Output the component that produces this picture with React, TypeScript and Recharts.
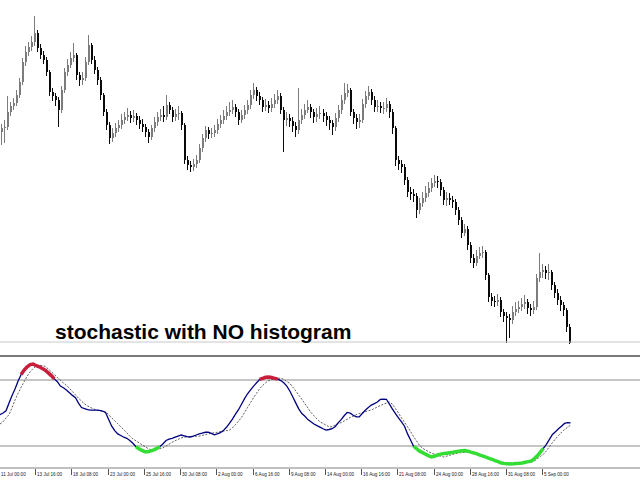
import { ComposedChart, Bar, Line, XAxis, YAxis, ReferenceLine } from "recharts";

// H4 candles: [open, high, low, close]
const candles: [number, number, number, number][] = [
  [210, 218, 197, 214], [214, 222, 199, 215], [215, 246, 212, 230], [230, 240, 226, 236],
  [236, 244, 232, 239], [239, 252, 236, 247], [247, 264, 244, 260], [260, 284, 257, 280],
  [280, 296, 276, 290], [290, 300, 286, 295], [295, 306, 291, 300], [300, 326, 296, 309],
  [309, 312, 290, 294], [294, 298, 283, 287], [287, 291, 278, 282], [282, 285, 266, 270],
  [270, 272, 246, 250], [250, 254, 241, 246], [246, 249, 236, 242], [242, 245, 215, 232],
  [232, 256, 229, 252], [252, 274, 249, 270], [270, 283, 266, 277], [277, 290, 274, 284],
  [284, 299, 280, 287], [287, 289, 262, 267], [267, 270, 256, 262], [262, 270, 257, 264],
  [264, 285, 261, 280], [280, 307, 277, 297], [297, 299, 278, 282], [282, 286, 268, 272],
  [272, 275, 257, 262], [262, 265, 242, 247], [247, 249, 226, 230], [230, 233, 212, 217],
  [217, 220, 198, 204], [204, 214, 200, 209], [209, 219, 205, 214], [214, 222, 210, 217],
  [217, 228, 213, 222], [222, 230, 218, 225], [225, 234, 221, 227], [227, 231, 219, 224],
  [224, 232, 220, 226], [226, 229, 217, 222], [222, 226, 213, 218], [218, 223, 210, 215],
  [215, 218, 205, 210], [210, 213, 199, 205], [205, 217, 202, 214], [214, 225, 210, 220],
  [220, 230, 216, 225], [225, 233, 221, 227], [227, 236, 220, 225], [225, 247, 222, 237],
  [237, 240, 228, 232], [232, 235, 220, 225], [225, 233, 221, 228], [228, 236, 222, 229],
  [229, 231, 212, 217], [217, 219, 178, 182], [182, 186, 172, 177], [177, 181, 170, 175],
  [175, 183, 171, 178], [178, 187, 174, 182], [182, 198, 179, 194], [194, 208, 190, 204],
  [204, 216, 200, 212], [212, 215, 203, 208], [208, 214, 204, 209], [209, 217, 205, 212],
  [212, 223, 208, 218], [218, 227, 214, 222], [222, 232, 218, 226], [226, 236, 222, 230],
  [230, 240, 226, 232], [232, 242, 228, 235], [235, 238, 225, 230], [230, 233, 217, 222],
  [222, 232, 219, 227], [227, 237, 223, 232], [232, 242, 228, 237], [237, 252, 233, 247],
  [247, 259, 243, 252], [252, 255, 241, 246], [246, 250, 237, 242], [242, 245, 230, 235],
  [235, 243, 231, 237], [237, 241, 229, 234], [234, 244, 230, 238], [238, 248, 234, 242],
  [242, 252, 238, 246], [246, 249, 228, 232], [232, 235, 190, 222], [222, 230, 216, 224],
  [224, 228, 215, 221], [221, 225, 210, 216], [216, 220, 205, 212], [212, 254, 208, 222],
  [222, 233, 218, 227], [227, 238, 223, 232], [232, 242, 229, 235], [235, 238, 224, 230],
  [230, 233, 219, 225], [225, 234, 220, 228], [228, 236, 223, 229], [229, 233, 220, 226],
  [226, 230, 216, 222], [222, 226, 212, 219], [219, 222, 207, 215], [215, 229, 211, 224],
  [224, 237, 220, 232], [232, 247, 228, 242], [242, 259, 238, 249], [249, 258, 245, 252],
  [252, 254, 226, 230], [230, 233, 218, 224], [224, 228, 213, 220], [220, 228, 214, 222],
  [222, 243, 219, 238], [238, 251, 234, 246], [246, 256, 242, 250], [250, 253, 237, 242],
  [242, 246, 230, 235], [235, 242, 230, 236], [236, 240, 229, 234], [234, 240, 228, 234],
  [234, 244, 230, 238], [238, 241, 224, 230], [230, 233, 208, 214], [214, 216, 176, 182],
  [182, 186, 172, 178], [178, 182, 169, 175], [175, 178, 157, 162], [162, 165, 145, 150],
  [150, 155, 142, 148], [148, 153, 140, 146], [146, 149, 124, 132], [132, 144, 128, 139],
  [139, 150, 135, 144], [144, 156, 140, 149], [149, 160, 145, 154], [154, 164, 150, 159],
  [159, 167, 155, 161], [161, 166, 154, 160], [160, 163, 146, 152], [152, 155, 137, 142],
  [142, 150, 136, 144], [144, 149, 137, 142], [142, 146, 134, 140], [140, 143, 127, 132],
  [132, 135, 117, 122], [122, 125, 104, 109], [109, 118, 106, 113], [113, 116, 92, 97],
  [97, 100, 79, 84], [84, 88, 74, 79], [79, 92, 76, 86], [86, 95, 83, 89],
  [89, 96, 84, 90], [90, 92, 62, 67], [67, 69, 40, 45], [45, 49, 36, 41],
  [41, 46, 35, 40], [40, 48, 36, 42], [42, 45, 25, 30], [30, 33, 20, 26],
  [26, 30, -1, 24], [24, 28, 4, 22], [22, 36, 18, 30], [30, 40, 26, 33],
  [33, 41, 29, 35], [35, 44, 31, 38], [38, 47, 33, 40], [40, 43, 28, 34],
  [34, 38, 26, 32], [32, 41, 28, 35], [35, 68, 32, 64], [64, 89, 60, 70],
  [70, 78, 64, 72], [72, 76, 63, 69], [69, 78, 62, 70], [70, 72, 52, 57],
  [57, 60, 44, 49], [49, 53, 37, 42], [42, 46, 31, 37], [37, 40, 26, 32],
  [32, 34, 10, 15], [15, 18, -4, -1],
];

// stochastic %K
const stochMain = [
  48.5, 50, 52, 59, 66, 72, 79, 85, 89, 92, 94, 94.5, 93, 92, 90.5, 89, 86.5, 84, 81, 78.5,
  74.5, 73, 71, 68.5, 66, 64, 59, 55, 54, 53, 52.7, 52.7, 52.6, 52.3, 51.8, 50.3, 44, 38, 34, 31,
  29.5, 28, 27, 25, 22.5, 19.5, 17.5, 16, 14.8, 14.8, 15.5, 16.5, 18, 19.5, 22, 25, 26.3, 27, 28, 29,
  30, 29.3, 28.5, 28.2, 29, 30, 31, 31.8, 32.5, 32.5, 31.5, 30.2, 31, 32.2, 34, 37, 40.5, 44.5, 49, 53,
  58, 63, 67.5, 71, 74.5, 77.5, 80.5, 81.5, 82.5, 82.7, 82.2, 81.5, 80.8, 79.5, 77.5, 74.5, 70, 64.5, 59, 53.5,
  49.5, 47, 44, 42, 40, 38.5, 37.2, 35.7, 34.5, 35, 35.7, 37.5, 41, 44, 47.5, 50.5, 49.8, 48, 46.5, 46.5,
  49.5, 52.5, 55, 57.2, 58.5, 60, 62.3, 62.7, 62.5, 58, 53.5, 49.5, 45.5, 42, 38, 31, 25.5, 19.8, 17.5, 15.3,
  14, 12.5, 11, 10.1, 10.9, 11.8, 12.6, 13.1, 13.5, 13.9, 14.3, 14.8, 15.2, 15.6, 15.9, 15.2, 14.4, 13.7, 12.8, 11.8,
  10.8, 9.8, 8.8, 7.8, 6.8, 5.7, 4.6, 4.2, 3.9, 3.6, 3.8, 4.1, 4.3, 4.6, 5.2, 5.8, 6.3, 8.5, 11, 14.5,
  17.8, 21.5, 26, 30.5, 33, 35.6, 38, 40.5, 41.2, 41,
];

// stochastic %D (signal)
const stochSignal = [
  40, 42, 45.5, 48.5, 55, 62, 68, 73.5, 78.5, 83.5, 87.5, 90.5, 92.8, 93.5, 93, 92.3, 90, 87.5, 85, 82.2,
  79.8, 77.3, 75, 72.5, 69.5, 66.5, 63.5, 60.8, 58.3, 56.4, 55, 53.7, 52.6, 52, 51.5, 51, 48.5, 45.5, 43, 40.3,
  37.5, 34.8, 32, 29, 26.5, 24.8, 23, 21.2, 19.5, 17.8, 16.5, 16.2, 16.8, 17.5, 18.3, 20, 21.7, 23.3, 24.8, 26,
  27.3, 28, 28.2, 28.4, 28.6, 28.8, 29, 29.6, 30.3, 31, 31.6, 32, 32.5, 33, 33.5, 34, 34.5, 36.5, 39.5, 42.5,
  46, 50.5, 55, 59.5, 64, 68, 72, 75, 77.5, 79.5, 80.3, 81, 81.5, 81.7, 80.5, 78.5, 77, 73.5, 70, 66,
  62.5, 58.5, 54.5, 50.5, 47.5, 44.5, 42, 40.5, 39, 37.5, 37.5, 39, 40.3, 41.2, 42.7, 44.3, 46, 47.2, 48.5, 49.5,
  50.4, 51.2, 52, 52.8, 54, 55.5, 56.8, 58, 59, 60, 58, 54, 50, 45.5, 41.5, 37.5, 33.3, 28.5, 24.5, 20.5,
  18, 16.3, 14.7, 13.5, 12.6, 11.6, 10.7, 10, 10.8, 11.6, 12.4, 13.2, 13.7, 14, 14.2, 14.4, 14.5, 13.5, 12.3, 11.2,
  10.5, 9.5, 8.5, 7.5, 6.5, 5.6, 5.3, 5, 4.7, 4.5, 4.5, 4.5, 4.5, 4.5, 4.7, 5.2, 5.8, 6.4, 8.5, 10.5,
  12.5, 15.5, 19.5, 23, 26.5, 29.5, 32.5, 35, 37, 39,
];

const tickLabels = [
  "11 Jul 00:00", "13 Jul 16:00", "18 Jul 08:00", "23 Jul 00:00", "25 Jul 16:00", "30 Jul 08:00",
  "2 Aug 00:00", "6 Aug 16:00", "9 Aug 08:00", "14 Aug 00:00", "16 Aug 16:00", "21 Aug 08:00",
  "24 Aug 00:00", "28 Aug 16:00", "31 Aug 08:00", "5 Sep 00:00",
];

const TICK_STEP = 12; // bars between time labels
const EMPTY_BARS = 23; // free space right of the last bar
const OVERBOUGHT = 80;
const OVERSOLD = 20;

const rows = Array.from({ length: candles.length + EMPTY_BARS }, (_, i) => {
  const c = candles[i];
  const m = stochMain[i];
  return {
    idx: i,
    range: c ? [c[2], c[1]] : null,
    ohlc: c ?? null,
    main: m ?? null,
    signal: stochSignal[i] ?? null,
    ob: m != null && m >= OVERBOUGHT ? m : null,
    os: m != null && m <= OVERSOLD ? m : null,
  };
});

function Candle(props: any) {
  const { x, y, width, height, payload } = props;
  if (!payload || !payload.ohlc || x == null || y == null) return null;
  const [o, h, l, c] = payload.ohlc;
  const top0 = Math.min(y, y + height);
  const hgt = Math.abs(height);
  const k = h > l ? hgt / (h - l) : 0;
  const cx = Math.round(x + width / 2);
  const bodyTop = top0 + (h - Math.max(o, c)) * k;
  const bodyBot = top0 + (h - Math.min(o, c)) * k;
  const color = c >= o ? "#7c7c7c" : "#0a0a0a";
  return (
    <g>
      <line x1={cx - 0.5} x2={cx - 0.5} y1={top0} y2={top0 + hgt} stroke={color} strokeWidth={1} />
      <rect x={cx - 1} y={bodyTop} width={2} height={Math.max(1, bodyBot - bodyTop)} fill={color} />
    </g>
  );
}

function TimeTick(props: any) {
  const { x, y, payload } = props;
  const v = payload.value;
  const label = v % TICK_STEP === 0 ? tickLabels[v / TICK_STEP] : undefined;
  if (!label) return <g />;
  const px = Math.round(x) - 0.5;
  return (
    <g>
      <line x1={px} x2={px} y1={y + 1} y2={y + 7} stroke="#555" strokeWidth={1} />
      <text x={px + 1.5} y={y + 7.5} fontSize={4.6} fill="#222" fontFamily="Liberation Sans, Arial" textAnchor="start">
        {label}
      </text>
    </g>
  );
}

export default function App() {
  return (
    <div style={{ position: "absolute", left: 0, top: 0, width: 640, height: 480, background: "#fff", overflow: "hidden" }}>
      <div style={{ position: "absolute", left: 0, top: 0 }}>
        <ComposedChart width={640} height={344} data={rows} margin={{ top: 0, right: 0, bottom: 0, left: 0 }}>
          <XAxis dataKey="idx" hide />
          <YAxis hide domain={[-2, 342]} allowDataOverflow />
          <ReferenceLine y={0} stroke="#c8c8c8" />
          <Bar dataKey="range" barSize={2} shape={Candle} isAnimationActive={false} />
        </ComposedChart>
      </div>
      <div
        style={{
          position: "absolute",
          left: 55,
          top: 321,
          font: "bold 21px 'Liberation Sans', Arial, sans-serif",
          lineHeight: "21px",
          color: "#000",
          whiteSpace: "nowrap",
        }}
      >
        stochastic with NO histogram
      </div>
      <div style={{ position: "absolute", left: 0, top: 355, width: 640, height: 2, background: "#7a7a7a" }} />
      <div style={{ position: "absolute", left: 0, top: 356 }}>
        <ComposedChart width={640} height={124} data={rows} margin={{ top: 2, right: 0, bottom: 0, left: 0 }}>
          <XAxis
            dataKey="idx"
            height={12}
            interval={TICK_STEP - 1}
            tick={<TimeTick />}
            tickLine={false}
            tickSize={0}
            tickMargin={0}
            axisLine={{ stroke: "#808080" }}
          />
          <YAxis hide domain={[0, 100]} />
          <ReferenceLine y={OVERBOUGHT} stroke="#8c8c8c" />
          <ReferenceLine y={OVERSOLD} stroke="#8c8c8c" />
          <Line dataKey="signal" type="linear" stroke="#333" strokeWidth={0.8} strokeDasharray="2 1.5" dot={false} activeDot={false} isAnimationActive={false} />
          <Line dataKey="main" type="linear" stroke="#00007f" strokeWidth={1.3} dot={false} activeDot={false} isAnimationActive={false} />
          <Line dataKey="ob" type="linear" stroke="#c81e3c" strokeWidth={3.5} dot={false} activeDot={false} isAnimationActive={false} />
          <Line dataKey="os" type="linear" stroke="#33dd33" strokeWidth={3.5} dot={false} activeDot={false} isAnimationActive={false} />
        </ComposedChart>
      </div>
    </div>
  );
}
